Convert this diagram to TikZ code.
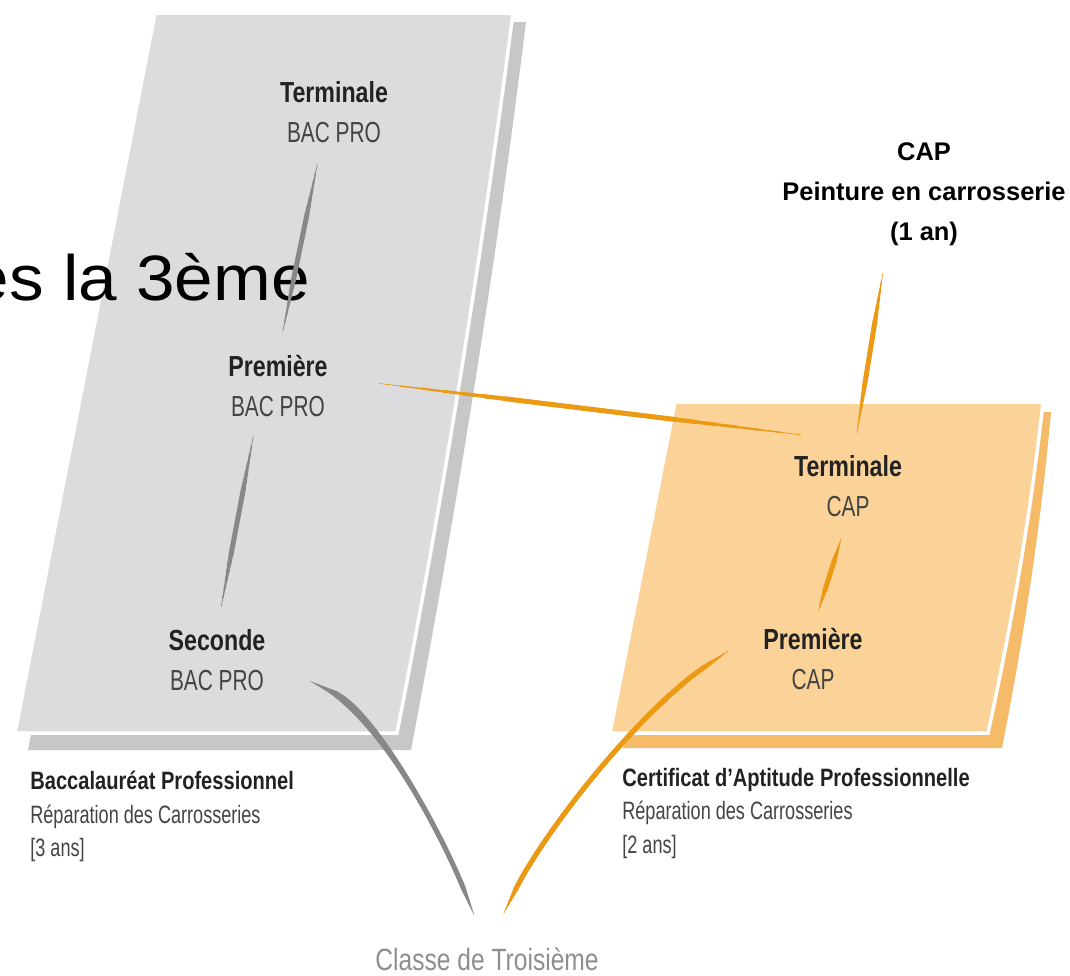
\documentclass[tikz,border=0pt]{standalone}
\usepackage{fontspec}
\setmainfont{Liberation Sans}
\newfontfamily\dinnarrow[FakeStretch=0.72]{Liberation Sans}
\newfontfamily\dinwide[FakeStretch=0.8]{Liberation Sans}
\newfontfamily\slidefont[FakeStretch=1.08]{Liberation Sans}

\definecolor{cardgrey}{HTML}{DCDCDE}
\definecolor{shadegrey}{HTML}{C6C7C9}
\definecolor{cardorange}{HTML}{FBD398}
\definecolor{shadeorange}{HTML}{F5BB68}
\definecolor{linegrey}{HTML}{88888B}
\definecolor{lineorange}{HTML}{EC9A14}
\definecolor{textdark}{HTML}{222222}
\definecolor{textsub}{HTML}{444444}
\definecolor{classgrey}{HTML}{8E8E8E}

\newcommand{\stage}[2]{{\dinwide\bfseries #1}\\{\dinnarrow\color{textsub}#2}}
% stroke thick in the middle, thin at both ends
\newcommand{\taper}[5]{%
  \foreach \w/\f in {0.4/0,0.8/0.05,1.2/0.1,1.6/0.15,2.0/0.2,2.4/0.25,2.8/0.3}
    \draw[#1, line width=\w pt, line cap=round,
      shorten <=#2+\f*#4, shorten >=#3+\f*#4] #5;}

\begin{document}
\begin{tikzpicture}[x=0.02cm, y=-0.02cm,
  stagebox/.style={align=center, inner sep=0pt, text=textdark,
    font=\fontsize{16.5}{22.8}\selectfont},
  diploma/.style={align=left, inner sep=0pt, anchor=north west, text=textsub,
    font=\fontsize{14.3}{19}\dinnarrow}]
\useasboundingbox (0,0) rectangle (1070,975);
\clip (0,0) rectangle (1070,975);

% cards
\fill[shadegrey] (165,22) -- (526,22) .. controls (496,265) and (457,507) .. (411,750) -- (28,750) -- cycle;
\filldraw[fill=cardgrey, draw=white, line width=2pt] (155,13) -- (513,13) .. controls (482,253) and (444,493) .. (397,733) -- (15,733) -- cycle;
\fill[shadeorange] (690,412) -- (1051,412) .. controls (1041,524) and (1024,636) .. (1002,748) -- (623,748) -- cycle;
\filldraw[fill=cardorange, draw=white, line width=2pt] (675,402) -- (1043,402) .. controls (1031,512) and (1012,623) .. (988,733) -- (610,733) -- cycle;

\node[anchor=base east, inner sep=0pt, font=\fontsize{36.5}{40}\slidefont] (slide) at (310,300) {es la 3ème};

% stages
\node[stagebox] (tbac) at (334,112) {\stage{Terminale}{BAC PRO}};
\node[stagebox] (pbac) at (278,386) {\stage{Première}{BAC PRO}};
\node[stagebox] (sbac) at (217,660) {\stage{Seconde}{BAC PRO}};
\node[stagebox] (tcap) at (848,486) {\stage{Terminale}{CAP}};
\node[stagebox] (pcap) at (813,659) {\stage{Première}{CAP}};

\node[align=center, inner sep=0pt, anchor=north, font=\bfseries\fontsize{14.5}{23}\selectfont] (cap1) at (924,142) {CAP\\Peinture en carrosserie\\(1 an)};

\node[diploma] (bac) at (30,771) {{\dinwide\bfseries\color{textdark}Baccalauréat Professionnel}\\Réparation des Carrosseries\\{[}3 ans]};
\node[diploma] (cap) at (622,768) {{\dinwide\bfseries\color{textdark}Certificat d’Aptitude Professionnelle}\\Réparation des Carrosseries\\{[}2 ans]};
\node[inner sep=0pt, text=classgrey, font=\fontsize{17.5}{20}\dinwide] (troi) at (487,959) {Classe de Troisième};

% links
\taper{linegrey}{12.5pt}{14pt}{96pt}{([xshift=-7pt]tbac.south) -- (pbac.north)}
\taper{linegrey}{11.4pt}{13pt}{99pt}{([xshift=-12pt]pbac.south) -- (sbac.north)}
\taper{linegrey}{28.5pt}{20.5pt}{50pt}{(sbac.east) .. controls (375,712) and (440,830) .. (troi.north)}
\taper{lineorange}{29.6pt}{-4pt}{240pt}{([yshift=5pt]pbac.east) -- ([yshift=12pt]tcap.north west)}
\taper{lineorange}{12.7pt}{15.6pt}{91pt}{([xshift=3pt]tcap.north) -- ([xshift=-21pt]cap1.south)}
\taper{lineorange}{13.4pt}{10.5pt}{42pt}{(tcap.south) -- (pcap.north)}
\taper{lineorange}{21.6pt}{24pt}{50pt}{(troi.north) .. controls (545,830) and (640,710) .. (pcap.north west)}
\end{tikzpicture}
\end{document}
